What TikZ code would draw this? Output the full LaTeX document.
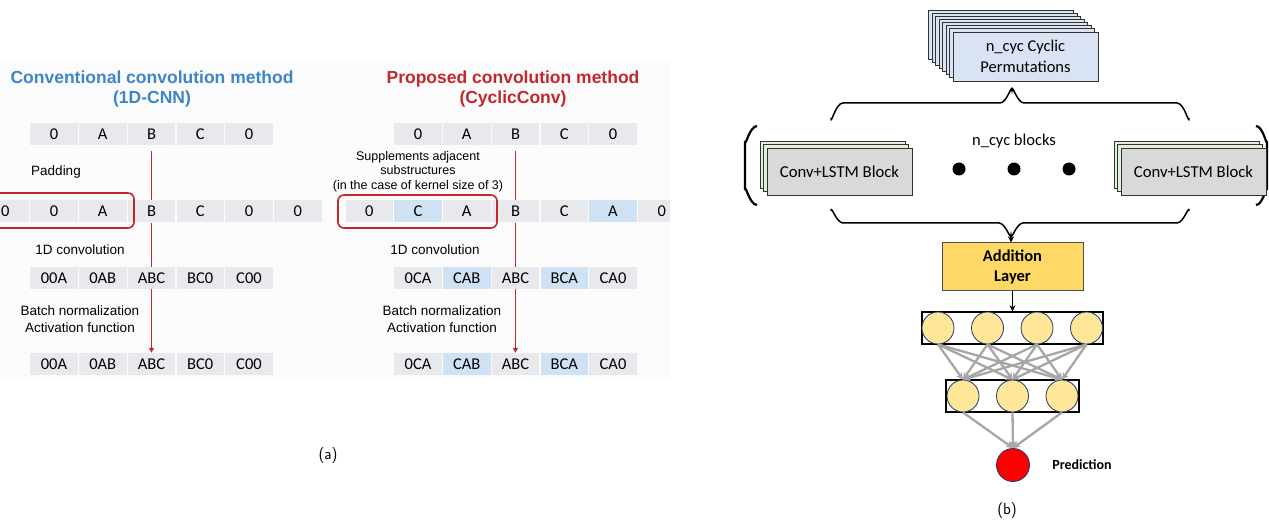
\documentclass[tikz,border=0pt]{standalone}
\usepackage{fontspec}
\setmainfont{Liberation Sans}
\newfontfamily\carl{Carlito}
\usetikzlibrary{arrows.meta,calc}
\definecolor{cellgray}{HTML}{E8E9ED}
\definecolor{cellblue}{HTML}{CFE2F3}
\definecolor{convred}{HTML}{C0282D}
\definecolor{convblue}{HTML}{3D85C6}
\definecolor{permblue}{HTML}{DAE3F3}
\definecolor{convgreen}{HTML}{E2F0D9}
\definecolor{blockgray}{HTML}{D9D9D9}
\definecolor{addgold}{HTML}{FFD966}
\definecolor{neuron}{HTML}{FFE699}
\definecolor{navy}{HTML}{1F3864}
\definecolor{arrowgray}{HTML}{A6A6A6}
\tikzset{
  cell/.style={fill=cellgray, minimum width=47.5pt, minimum height=22pt, inner sep=0pt, font=\carl\fontsize{16.5}{16.5}\selectfont},
  hcell/.style={cell, fill=cellblue},
  lbl/.style={font=\fontsize{13.5}{17}\selectfont, align=center, inner sep=0pt},
  title/.style={font=\bfseries\fontsize{17.5}{20}\selectfont, align=center, inner sep=0pt},
  redline/.style={draw=convred, line width=1.7pt},
  redbox/.style={draw=convred, line width=1.6pt, rounded corners=6pt},
  permbox/.style={draw=black!80, fill=permblue, line width=0.8pt},
  convback/.style={draw=black!80, fill=convgreen, line width=0.8pt},
  convbox/.style={draw=black!80, fill=blockgray, line width=0.8pt, minimum width=145pt, minimum height=47pt, inner sep=0pt, font=\carl\fontsize{16.7}{18}\selectfont},
  brace/.style={draw=black, line width=1.5pt},
  paren/.style={draw=black, line width=2.2pt},
  bigdot/.style={circle, fill=black, minimum size=13pt, inner sep=0pt},
  addbox/.style={draw=black!70, fill=addgold, line width=1pt, minimum width=141pt, minimum height=48pt, align=center, inner sep=0pt, font=\carl\bfseries\fontsize{16.5}{20}\selectfont},
  layerbox/.style={draw=black, line width=1.4pt, inner sep=0pt},
  neuronnode/.style={circle, draw=navy, fill=neuron, line width=0.8pt, minimum size=32pt, inner sep=0pt},
  grayarrow/.style={draw=arrowgray, line width=2.3pt, -{Stealth[length=7pt,width=7pt]}},
  blackarrow/.style={draw=black, line width=1.7pt, -{Stealth[length=6pt,width=6pt]}},
  caption/.style={font=\sffamily\fontsize{16}{18}\selectfont, inner sep=0pt}
}
\begin{document}
\begin{tikzpicture}[x=1pt,y=-1pt]
\useasboundingbox (0,0) rectangle (1269,521);
\fill[black!1.5] (0,62) rectangle (670,380);

% ---------- panel (a), left ----------
\node[title, text=convblue] (t1) at (152,89) {Conventional convolution method\\(1D-CNN)};
\foreach \t [count=\i] in {0,A,B,C,0}
  \node[cell] (La\i) at ({54+48.75*(\i-1)},134) {\t};
\foreach \t [count=\i] in {0,0,A,B,C,0,0}
  \node[cell] (Lb\i) at ({5.25+48.75*(\i-1)},211.5) {\t};
\foreach \t [count=\i] in {00A,0AB,ABC,BC0,C00}
  \node[cell] (Lc\i) at ({54+48.75*(\i-1)},278) {\t};
\foreach \t [count=\i] in {00A,0AB,ABC,BC0,C00}
  \node[cell] (Ld\i) at ({54+48.75*(\i-1)},364) {\t};
\draw[redbox] (-6,193) rectangle (134,228);
\node[lbl] (pad) at (56,172) {Padding};
\node[lbl] (conv1) at (80,250) {1D convolution};
\node[lbl] (bn1) at (80,319.5) {Batch normalization\\Activation function};
\draw[redline] ([yshift=-6pt]La3.south) -- (Lb4.north);
\draw[redline] (Lb4.south) -- (Lc3.north);
\draw[redline,-{Triangle[length=5pt,width=5pt]}] (Lc3.south) -- (Ld3.north);

% ---------- panel (a), right ----------
\node[title, text=convred] (t2) at (513,89) {Proposed convolution method\\(CyclicConv)};
\foreach \t [count=\i] in {0,A,B,C,0}
  \node[cell] (Ra\i) at ({418+48.75*(\i-1)},134) {\t};
\begin{scope}
\clip (0,0) rectangle (670,521);
\foreach \t/\s [count=\i] in {0/cell,C/hcell,A/cell,B/cell,C/cell,A/hcell,0/cell}
  \node[\s] (Rb\i) at ({369.25+48.75*(\i-1)},211.5) {\t};
\end{scope}
\foreach \t/\s [count=\i] in {0CA/cell,CAB/hcell,ABC/cell,BCA/hcell,CA0/cell}
  \node[\s] (Rc\i) at ({418+48.75*(\i-1)},278) {\t};
\foreach \t/\s [count=\i] in {0CA/cell,CAB/hcell,ABC/cell,BCA/hcell,CA0/cell}
  \node[\s] (Rd\i) at ({418+48.75*(\i-1)},364) {\t};
\draw[redbox] (338,195) rectangle (497,228);
\node[lbl, font=\fontsize{12.5}{14.5}\selectfont] (supp) at (418,171.5) {Supplements adjacent\\substructures\\(in the case of kernel size of 3)};
\node[lbl] (conv2) at (435,250) {1D convolution};
\node[lbl] (bn2) at (442,319.5) {Batch normalization\\Activation function};
\draw[redline] ([yshift=-6pt]Ra3.south) -- (Rb4.north);
\draw[redline] (Rb4.south) -- (Rc3.north);
\draw[redline,-{Triangle[length=5pt,width=5pt]}] (Rc3.south) -- (Rd3.north);

\node[caption] (capa) at (328,456) {(a)};

% ---------- panel (b) ----------
\foreach \k in {7,6,...,1}
  \draw[permbox] ($(953,32)+(-3.5*\k,-3.1*\k)$) rectangle +(145,49);
\node[permbox, minimum width=145pt, minimum height=49pt, inner sep=0pt, align=center, font=\carl\fontsize{16.5}{21}\selectfont] (perm) at (1025.5,56.5) {n\_cyc Cyclic\\Permutations};

\draw[brace] (831,118) to[out=-90,in=180] (843,103) -- (1000,103) to[out=0,in=90] (1012,90)
  to[out=90,in=180] (1024,103) -- (1177,103) to[out=0,in=-90] (1189,118);

\draw[paren] (757,126) to[out=180,in=-90] (745,141) -- (745,190) to[out=90,in=180] (757,205);
\draw[paren] (1256,126) to[out=0,in=-90] (1267,141) -- (1267,190) to[out=90,in=0] (1256,205);

\draw[convback] (760,141) rectangle +(145,47);
\draw[convback] (763.5,144.5) rectangle +(145,47);
\node[convbox] (cb1) at (839.5,171.5) {Conv+LSTM Block};
\draw[convback] (1114,141) rectangle +(145,47);
\draw[convback] (1117.5,144.5) rectangle +(145,47);
\node[convbox] (cb2) at (1193.5,171.5) {Conv+LSTM Block};

\node[font=\carl\fontsize{16.5}{18}\selectfont, inner sep=0pt] (ncb) at (1014,141) {n\_cyc blocks};
\node[bigdot] (d1) at (959,169) {};
\node[bigdot] (d2) at (1014,169) {};
\node[bigdot] (d3) at (1069,169) {};

\draw[brace] (831,211) to[out=90,in=180] (843,223) -- (999,223) to[out=0,in=-90] (1011,235)
  to[out=-90,in=180] (1023,223) -- (1177,223) to[out=0,in=90] (1189,211);
\coordinate (bcusp) at (1011,235);

\node[addbox] (add) at (1012.5,267) {Addition\\Layer};
\draw[blackarrow] (bcusp) -- (add.north -| bcusp);

\node[layerbox, minimum width=181pt, minimum height=32pt] (L1) at (1012.5,328) {};
\node[layerbox, minimum width=133pt, minimum height=32pt] (L2) at (1012.5,396) {};
\foreach \x [count=\i] in {938,987.5,1037,1086.5}
  \node[neuronnode] (n\i) at (\x,328) {};
\foreach \x [count=\j] in {963,1012.5,1062}
  \node[neuronnode] (m\j) at (\x,396) {};
\draw[blackarrow] (add.south) -- (L1.north);
\foreach \i in {1,...,4}
  \foreach \j in {1,2,3}
    \draw[grayarrow] (n\i.south) -- (m\j.north);
\node[circle, draw=navy, fill=red, line width=0.8pt, minimum size=33pt, inner sep=0pt] (pred) at (1013,465) {};
\foreach \j in {1,2,3}
  \draw[grayarrow] (m\j.south) -- (pred.north);
\node[font=\carl\bfseries\fontsize{14}{16}\selectfont, inner sep=0pt] (predlbl) at (1082,465) {Prediction};
\node[caption] (capb) at (1007,511) {(b)};
\end{tikzpicture}
\end{document}
